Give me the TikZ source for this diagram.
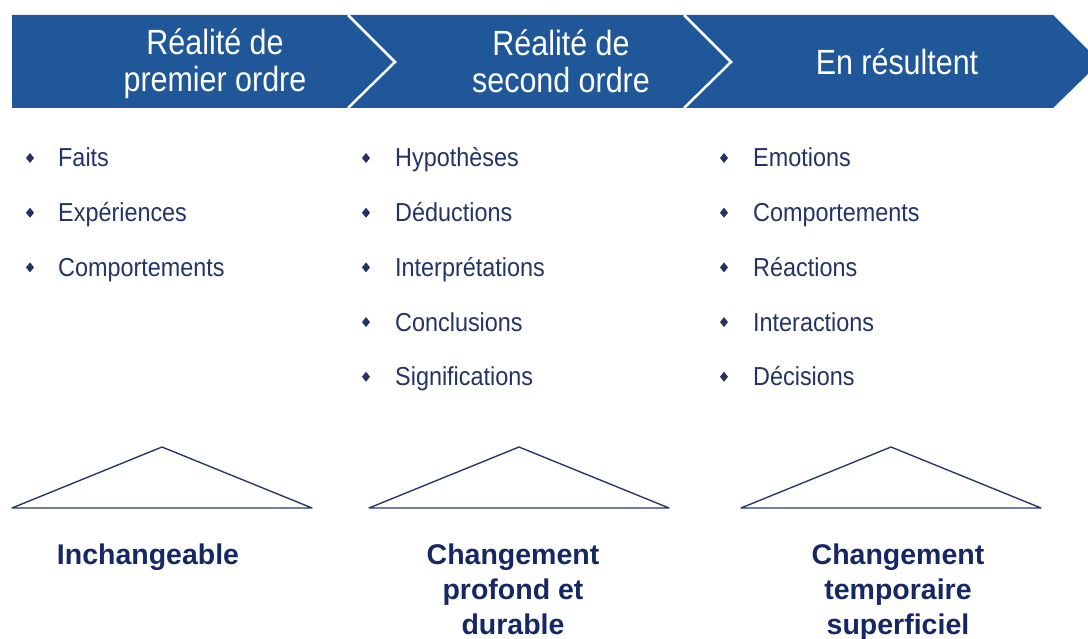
\documentclass[tikz,border=0pt]{standalone}
\usepackage{fontspec}
\setmainfont{Liberation Sans}
\newfontfamily\headfont[FakeStretch=0.87]{Liberation Sans}
\newfontfamily\listfont[FakeStretch=0.9]{Liberation Sans}
\newfontfamily\boldfont{Liberation Sans Bold}
\definecolor{banner}{RGB}{31,87,153}
\definecolor{listtxt}{RGB}{35,52,100}
\definecolor{navy}{RGB}{22,40,100}
\definecolor{tri}{RGB}{40,58,108}
\begin{document}
\begin{tikzpicture}[x=1pt,y=-1pt,
  head/.style={text=white,font=\headfont\fontsize{35}{37}\selectfont,align=center,inner sep=0pt},
  item/.style={text=listtxt,font=\listfont\fontsize{26}{30}\selectfont,anchor=base west,inner sep=0pt},
  bul/.style={fill=listtxt,draw=none},
  result/.style={text=navy,font=\boldfont\fontsize{28.5}{35}\selectfont,align=center,inner sep=0pt,anchor=north},
  trig/.style={draw=tri,line width=1.4pt,line join=round}]
\useasboundingbox (0,0) rectangle (1088,639);
% banner
\fill[banner] (12,15) -- (1053,15) -- (1088,50) -- (1088,74) -- (1053,108) -- (12,108) -- cycle;
\coordinate (c1t) at (348,15); \coordinate (c1m) at (395,62); \coordinate (c1b) at (348,108);
\coordinate (c2t) at (684,15); \coordinate (c2m) at (731,62); \coordinate (c2b) at (684,108);
\draw[white,line width=2.5pt] (c1t) -- (c1m) -- (c1b);
\draw[white,line width=2.5pt] (c2t) -- (c2m) -- (c2b);
\node[head] (h1) at (215,64) {Réalité de\\premier ordre};
\node[head] (h2) at (561,61) {Réalité de\\second ordre};
\node[head] (h3) at (897,62) {En résultent};
% bullets
\newcommand{\bl}[2]{\fill[bul] (#1-4,#2) -- (#1,#2-5) -- (#1+4,#2) -- (#1,#2+5) -- cycle;}
\foreach \y in {158,212.7,267.4} {\bl{30}{\y}}
\foreach \y in {158,212.7,267.4,322.1,376.8} {\bl{366}{\y}\bl{724}{\y}}
\node[item] (a1) at (58,167) {Faits};
\node[item] (a2) at (58,221.7) {Expériences};
\node[item] (a3) at (58,276.4) {Comportements};
\node[item] (b1) at (395,167) {Hypothèses};
\node[item] (b2) at (395,221.7) {Déductions};
\node[item] (b3) at (395,276.4) {Interprétations};
\node[item] (b4) at (395,331.1) {Conclusions};
\node[item] (b5) at (395,385.8) {Significations};
\node[item] (c1) at (753,167) {Emotions};
\node[item] (c2) at (753,221.7) {Comportements};
\node[item] (c3) at (753,276.4) {Réactions};
\node[item] (c4) at (753,331.1) {Interactions};
\node[item] (c5) at (753,385.8) {Décisions};
% triangles
\draw[trig] (12,508) -- (162,447) -- (312,508) -- cycle;
\draw[trig] (369,508) -- (519,447) -- (669,508) -- cycle;
\draw[trig] (741,508) -- (891,447) -- (1041,508) -- cycle;
% results
\node[result] (r1) at (148,544) {Inchangeable};
\node[result] (r2) at (513,544) {Changement\\profond et\\durable};
\node[result] (r3) at (898,544) {Changement\\temporaire\\superficiel};
\end{tikzpicture}
\end{document}
